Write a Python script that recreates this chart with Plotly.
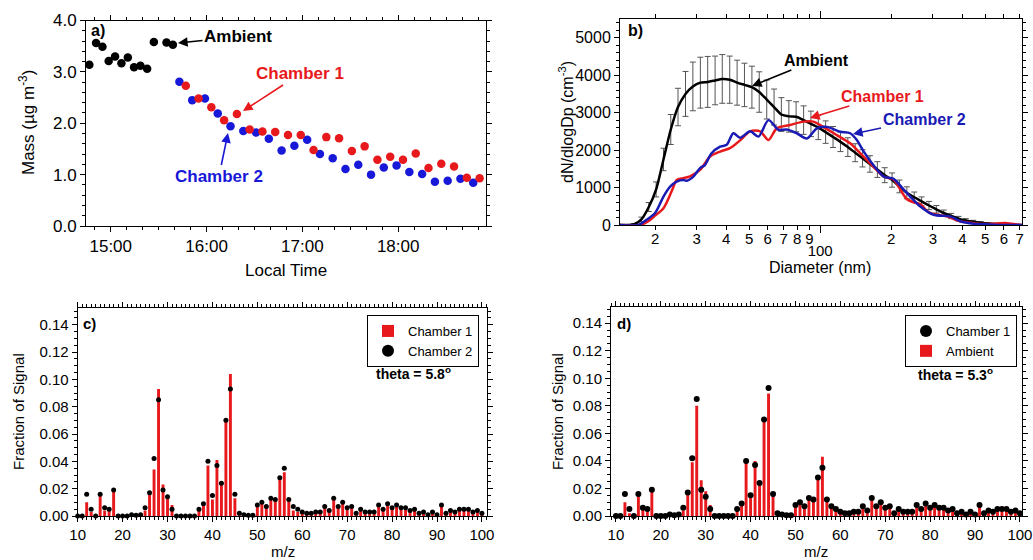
import plotly.graph_objects as go

FONT = "Arial, Liberation Sans, sans-serif"
RED = "#e8191c"
BLUE = "#1818d8"
BLUE_LINE = "#1a1ab4"

# ---------------- Panel a: mass vs local time ----------------
amb_time = ["14:46:36", "14:50:48", "14:54:48", "14:58:42", "15:02:42", "15:06:42", "15:10:42",
            "15:14:36", "15:18:36", "15:22:48", "15:27:00", "15:34:54", "15:38:54"]
amb_mass = [3.14, 3.56, 3.49, 3.21, 3.30, 3.17, 3.28, 3.09, 3.12, 3.06, 3.58, 3.57, 3.53]

ch1_time = ["15:47", "15:55", "16:03", "16:11", "16:19", "16:27", "16:35", "16:43", "16:51", "16:59",
            "17:07", "17:15", "17:23", "17:31", "17:39", "17:47", "17:55", "18:03", "18:11", "18:19",
            "18:27", "18:35", "18:43", "18:51"]
ch1_mass = [2.73, 2.48, 2.31, 2.06, 2.18, 1.88, 1.84, 1.83, 1.77, 1.77, 1.48, 1.73, 1.71, 1.46,
            1.55, 1.29, 1.35, 1.29, 1.41, 1.13, 1.21, 1.16, 0.94, 0.93]

ch2_time = ["15:43", "15:51", "15:59", "16:07", "16:15", "16:23", "16:31", "16:39", "16:47", "16:55",
            "17:03", "17:11", "17:19", "17:27", "17:35", "17:43", "17:51", "17:59", "18:07", "18:15",
            "18:23", "18:31", "18:39", "18:47"]
ch2_mass = [2.81, 2.45, 2.48, 2.19, 1.94, 1.85, 1.82, 1.70, 1.47, 1.56, 1.68, 1.40, 1.32, 1.11,
            1.19, 1.00, 1.14, 1.18, 1.05, 1.01, 0.86, 0.88, 0.92, 0.84]

DAY = "2000-01-01 "

# ---------------- Panel b: size distributions ----------------
amb_dp = [14.1, 15.1, 16.3, 17.5, 18.8, 20.2, 21.7, 23.3, 25.0, 26.9, 28.9, 31.1, 33.4, 35.9, 38.5,
          41.4, 44.5, 47.8, 51.4, 55.2, 59.4, 63.8, 68.5, 73.7, 79.1, 85.1, 91.4, 98.2, 105.5, 113.4,
          121.9, 131.0, 140.7, 151.2, 162.5, 174.7, 187.7, 201.7, 216.7, 232.9, 250.3, 269.0, 289.0,
          310.6, 333.8, 358.7, 385.4, 414.2, 445.1, 478.3, 514.0, 552.3, 593.5, 637.8, 685.4, 710.5]
amb_dn = [0, 0, 20, 150, 480, 950, 1750, 2550, 3150, 3500, 3700, 3800, 3820, 3860, 3900,
          3880, 3800, 3740, 3680, 3550, 3350, 3150, 2950, 2900, 2890, 2800, 2700, 2600, 2480, 2350,
          2220, 2080, 1930, 1780, 1630, 1480, 1330, 1200, 1030, 860, 740, 630, 520,
          420, 320, 240, 170, 120, 85, 60, 40, 25, 15, 8, 3, 0]
amb_err = [0, 0, 20, 60, 120, 200, 300, 400, 500, 600, 650, 680, 680, 650, 650,
           630, 600, 580, 560, 540, 520, 480, 450, 420, 400, 380, 340, 320, 300, 280,
           260, 250, 240, 230, 220, 210, 200, 190, 170, 160, 140, 120, 110,
           100, 80, 70, 60, 50, 40, 30, 20, 15, 10, 5, 3, 0]

c1_dp = [14.1, 17.3, 18.5, 20.0, 21.7, 23.5, 24.7, 26.3, 28.1, 31.0, 34.2, 37.7, 41.5, 45.8, 50.5,
         55.7, 60.4, 65.5, 74.6, 85.0, 93.7, 103.0, 117.6, 134.0, 148.0, 168.0, 186.0, 204.0, 216.0,
         232.0, 250.0, 265.0, 290.0, 344.0, 392.0, 447.0, 509.0, 617.0, 680.0, 716.0]
c1_dn = [0, 0, 80, 250, 450, 900, 1200, 1250, 1300, 1470, 1830, 1960, 2050, 2260, 2500,
         2500, 2270, 2580, 2670, 2760, 2760, 2620, 2400, 2180, 1910, 1560, 1290, 1220, 1000,
         700, 600, 560, 330, 230, 100, 50, 25, 50, 15, 0]

c2_dp = [14.1, 17.0, 18.4, 20.0, 21.7, 23.2, 24.7, 26.3, 27.2, 29.1, 31.0, 32.5, 34.6, 37.7, 40.2,
         42.9, 45.8, 50.5, 54.8, 60.4, 66.6, 72.2, 79.6, 87.8, 96.8, 106.7, 121.6, 134.0, 143.0,
         153.0, 168.0, 186.0, 204.0, 225.0, 265.0, 302.0, 355.0, 392.0, 447.0, 509.0, 599.0, 716.0]
c2_dn = [0, 0, 140, 320, 760, 1030, 1160, 1200, 1180, 1300, 1520, 1600, 1910, 2090, 2140,
         2450, 2330, 2500, 2360, 2800, 2540, 2550, 2450, 2310, 2580, 2620, 2490, 2450, 2270,
         1960, 1600, 1290, 1240, 960, 500, 275, 230, 100, 35, 18, 0, 0]

dp_tickvals = [20, 30, 40, 50, 60, 70, 80, 90, 200, 300, 400, 500, 600, 700]
dp_ticktext = ["2", "3", "4", "5", "6", "7", "8", "9", "2", "3", "4", "5", "6", "7"]
dp_decade_vals = [100]
dp_decade_text = ["100"]

# ---------------- Panels c, d: mass spectra ----------------
mz = list(range(10, 101))
ms_ch1 = [0, 0, 0.010, 0.003, 0, 0.015, 0.004, 0.004, 0.019, 0, 0, 0, 0.0005, 0.0003, 0.0005,
          0.004, 0.017, 0.034, 0.093, 0.023, 0.015, 0.008, 0, 0, 0, 0, 0, 0.004, 0.008, 0.037,
          0.012, 0.041, 0.025, 0.070, 0.104, 0.013, 0.002, 0.001, 0.0003, 0.0003, 0.007, 0.009,
          0.006, 0.012, 0.011, 0.027, 0.032, 0.011, 0.004, 0.003, 0.002, 0.002, 0.002, 0.003,
          0.003, 0.006, 0.004, 0.012, 0.006, 0.009, 0.005, 0.006, 0.002, 0.004, 0.002, 0.003,
          0.002, 0.008, 0.004, 0.008, 0.005, 0.007, 0.005, 0.006, 0.003, 0.004, 0.002, 0.002,
          0.001, 0.002, 0.001, 0.008, 0.001, 0.003, 0.003, 0.004, 0.005, 0.004, 0.003, 0.004, 0.002]
ms_ch2 = [0, 0, 0.016, 0.005, 0, 0.016, 0.006, 0.005, 0.019, 0, 0, 0, 0.001, 0.0005, 0.001,
          0.006, 0.017, 0.042, 0.085, 0.019, 0.014, 0.005, 0, 0, 0, 0, 0, 0.005, 0.009, 0.040,
          0.015, 0.037, 0.024, 0.070, 0.093, 0.016, 0.002, 0.001, 0.0005, 0.0005, 0.008, 0.010,
          0.007, 0.013, 0.012, 0.028, 0.035, 0.012, 0.007, 0.005, 0.003, 0.002, 0.002, 0.003,
          0.003, 0.007, 0.004, 0.013, 0.007, 0.010, 0.006, 0.007, 0.002, 0.005, 0.003, 0.003,
          0.003, 0.008, 0.005, 0.009, 0.006, 0.008, 0.006, 0.006, 0.004, 0.005, 0.002, 0.003,
          0.001, 0.003, 0.001, 0.008, 0.002, 0.004, 0.003, 0.005, 0.005, 0.005, 0.003, 0.004, 0.002]
ms_amb = [0, 0, 0.010, 0.002, 0, 0.015, 0.005, 0.005, 0.019, 0, 0, 0, 0.0005, 0, 0.0005,
          0.004, 0.016, 0.039, 0.080, 0.026, 0.018, 0.008, 0, 0, 0, 0, 0, 0.004, 0.008, 0.040,
          0.013, 0.040, 0.024, 0.069, 0.089, 0.015, 0.002, 0.001, 0, 0, 0.008, 0.009,
          0.006, 0.012, 0.011, 0.028, 0.043, 0.011, 0.006, 0.004, 0.003, 0.002, 0.002, 0.003,
          0.003, 0.006, 0.004, 0.013, 0.006, 0.009, 0.005, 0.006, 0.002, 0.004, 0.002, 0.003,
          0.002, 0.008, 0.004, 0.008, 0.005, 0.007, 0.005, 0.005, 0.003, 0.004, 0.002, 0.002,
          0.001, 0.002, 0.001, 0.008, 0.001, 0.003, 0.003, 0.004, 0.005, 0.004, 0.003, 0.004, 0.002]

W, H = 1033, 560


def px(x):
    return x / W


def py(y):
    return 1 - y / H


fig = go.Figure()

# Panel a
fig.add_trace(go.Scatter(x=[DAY + t for t in amb_time], y=amb_mass, mode="markers",
                         marker=dict(color="black", size=8.5), xaxis="x", yaxis="y", showlegend=False))
fig.add_trace(go.Scatter(x=[DAY + t for t in ch2_time], y=ch2_mass, mode="markers",
                         marker=dict(color=BLUE, size=8.5), xaxis="x", yaxis="y", showlegend=False))
fig.add_trace(go.Scatter(x=[DAY + t for t in ch1_time], y=ch1_mass, mode="markers",
                         marker=dict(color=RED, size=8.5), xaxis="x", yaxis="y", showlegend=False))

# Panel b
fig.add_trace(go.Scatter(x=amb_dp, y=amb_dn, mode="lines",
                         line=dict(color="black", width=2.5, shape="spline", smoothing=0.8),
                         error_y=dict(type="data", array=amb_err, color="#555555", thickness=1, width=3),
                         xaxis="x2", yaxis="y2", showlegend=False))
fig.add_trace(go.Scatter(x=c1_dp, y=c1_dn, mode="lines",
                         line=dict(color=RED, width=2.5, shape="spline", smoothing=0.8),
                         xaxis="x2", yaxis="y2", showlegend=False))
fig.add_trace(go.Scatter(x=c2_dp, y=c2_dn, mode="lines",
                         line=dict(color=BLUE_LINE, width=2.5, shape="spline", smoothing=0.8),
                         xaxis="x2", yaxis="y2", showlegend=False))
# invisible carrier so the decade-label axis is drawn
fig.add_trace(go.Scatter(x=dp_decade_vals, y=[0], mode="markers", marker=dict(opacity=0),
                         xaxis="x5", yaxis="y2", showlegend=False, hoverinfo="skip"))

# Panel c
fig.add_trace(go.Bar(x=mz, y=ms_ch1, width=0.65, marker=dict(color=RED, line=dict(width=0)),
                     name="Chamber 1", xaxis="x3", yaxis="y3", legend="legend"))
fig.add_trace(go.Scatter(x=mz, y=ms_ch2, mode="markers", marker=dict(color="black", size=5),
                         name="Chamber 2", xaxis="x3", yaxis="y3", legend="legend", cliponaxis=False))

# Panel d
fig.add_trace(go.Scatter(x=mz, y=ms_ch2, mode="markers", marker=dict(color="black", size=6),
                         name="Chamber 1", xaxis="x4", yaxis="y4", legend="legend2", cliponaxis=False))
fig.add_trace(go.Bar(x=mz, y=ms_amb, width=0.65, marker=dict(color=RED, line=dict(width=0)),
                     name="Ambient", xaxis="x4", yaxis="y4", legend="legend2"))


def ax_style(size=15, **kw):
    d = dict(showline=True, linecolor="black", linewidth=1, mirror="ticks", ticks="outside",
             ticklen=5, tickcolor="black", tickwidth=1, showgrid=False, zeroline=False,
             automargin=False,
             tickfont=dict(family=FONT, size=size, color="black"))
    d.update(kw)
    return d


minor_style = dict(ticks="outside", ticklen=3, tickcolor="black", showgrid=False)

fig.update_layout(
    template="none",
    width=W, height=H, margin=dict(l=0, r=0, t=0, b=0, autoexpand=False),
    paper_bgcolor="white", plot_bgcolor="white",
    font=dict(family=FONT, color="black"),
    barmode="overlay",
    xaxis=ax_style(17, type="date", domain=[px(86), px(486)], anchor="y",
                   range=[DAY + "14:44:30", DAY + "18:55:00"], tickformat="%H:%M",
                   tick0=DAY + "15:00", dtick=3600000,
                   minor=dict(dtick=600000, **minor_style)),
    yaxis=ax_style(17, domain=[py(226), py(20.5)], anchor="x", range=[0, 4.0], dtick=1,
                   tickformat=".1f", minor=dict(dtick=0.2, **minor_style)),
    xaxis2=ax_style(15, type="log", domain=[px(620), px(1022)], anchor="y2",
                    range=[1.1523, 2.8549], tickmode="array", tickvals=dp_tickvals,
                    ticktext=dp_ticktext, ticklen=4, tickangle=0, ticklabelstandoff=-4),
    xaxis5=dict(type="log", domain=[px(620), px(1022)], anchor="y2", overlaying="x2",
                range=[1.1523, 2.8549], tickmode="array", tickvals=dp_decade_vals,
                ticktext=dp_decade_text, ticks="outside", ticklen=7, tickcolor="black",
                showline=False, showgrid=False, zeroline=False, automargin=False, tickangle=0,
                ticklabelstandoff=5, side="bottom", mirror="ticks",
                tickfont=dict(family=FONT, size=15, color="black")),
    yaxis2=ax_style(16, domain=[py(225), py(19)], anchor="x2", range=[0, 5500], dtick=1000,
                    minor=dict(dtick=200, **minor_style)),
    xaxis3=ax_style(15, domain=[px(77.7), px(487.3)], anchor="y3", range=[10, 101.2], dtick=10,
                    minor=dict(dtick=1, **minor_style)),
    yaxis3=ax_style(15, domain=[py(516), py(308.3)], anchor="x3", range=[0, 0.152], dtick=0.02,
                    tickformat=".2f", minor=dict(dtick=0.005, **minor_style)),
    xaxis4=ax_style(15, domain=[px(611), px(1021.7)], anchor="y4", range=[8.9, 100.4], dtick=10,
                    tick0=0, minor=dict(dtick=1, **minor_style)),
    yaxis4=ax_style(15, domain=[py(516), py(306.7)], anchor="x4", range=[0, 0.152], dtick=0.02,
                    tickformat=".2f", minor=dict(dtick=0.005, **minor_style)),
    legend=dict(x=px(479), y=py(315), xanchor="right", yanchor="top", bgcolor="white",
                bordercolor="black", borderwidth=1, font=dict(family=FONT, size=13),
                traceorder="normal", tracegroupgap=0, itemsizing="constant"),
    legend2=dict(x=px(1017), y=py(315), xanchor="right", yanchor="top", bgcolor="white",
                 bordercolor="black", borderwidth=1, font=dict(family=FONT, size=13),
                 traceorder="normal", tracegroupgap=0, itemsizing="constant"),
)

ann = []


def text(x, y, t, size=15, bold=False, color="black", angle=0, xanchor="center"):
    s = f"<b>{t}</b>" if bold else t
    ann.append(dict(x=px(x), y=py(y), xref="paper", yref="paper", text=s, showarrow=False,
                    font=dict(family=FONT, size=size, color=color), textangle=angle,
                    xanchor=xanchor, yanchor="middle"))


def arrow_text(hx, hy, tx, ty, t, color, size):
    ann.append(dict(x=px(hx), y=py(hy), xref="paper", yref="paper", ax=tx - hx, ay=ty - hy,
                    text=f"<b>{t}</b>", showarrow=True, arrowhead=2, arrowsize=1.2,
                    arrowwidth=1.6, arrowcolor=color, standoff=0,
                    font=dict(family=FONT, size=size, color=color)))


# axis titles
text(286, 270, "Local Time", 17)
text(27, 123, "Mass (µg m<sup>-3</sup>)", 17, angle=-90)
text(820, 267, "Diameter (nm)", 16)
text(566, 122, "dN/dlogDp (cm<sup>-3</sup>)", 16, angle=-90)
text(283, 551, "m/z", 15)
text(18, 412, "Fraction of Signal", 15, angle=-90)
text(816, 551, "m/z", 15)
text(557, 412, "Fraction of Signal", 15, angle=-90)

# panel labels
text(89, 30, "a)", 16, bold=True, xanchor="left")
text(626, 30, "b)", 16, bold=True, xanchor="left")
text(81, 323, "c)", 15, bold=True, xanchor="left")
text(615, 323, "d)", 15, bold=True, xanchor="left")

# theta labels
text(413, 373, "theta = 5.8<sup>o</sup>", 14, bold=True)
text(955, 374, "theta = 5.3<sup>o</sup>", 14, bold=True)

# arrows panel a
arrow_text(178, 43, 238, 37, "Ambient", "black", 17)
arrow_text(243, 111, 300, 74, "Chamber 1", RED, 17)
arrow_text(228, 133, 219, 176, "Chamber 2", BLUE, 17)
# arrows panel b
arrow_text(752, 86, 816, 60, "Ambient", "black", 16)
arrow_text(810, 118, 882, 96, "Chamber 1", RED, 16)
arrow_text(853, 134, 924, 119, "Chamber 2", BLUE_LINE, 16)

fig.update_layout(annotations=ann)

fig.write_html("out.html", config={"displayModeBar": False},
               post_script="document.body.style.margin='0px';document.body.style.padding='0px';")
